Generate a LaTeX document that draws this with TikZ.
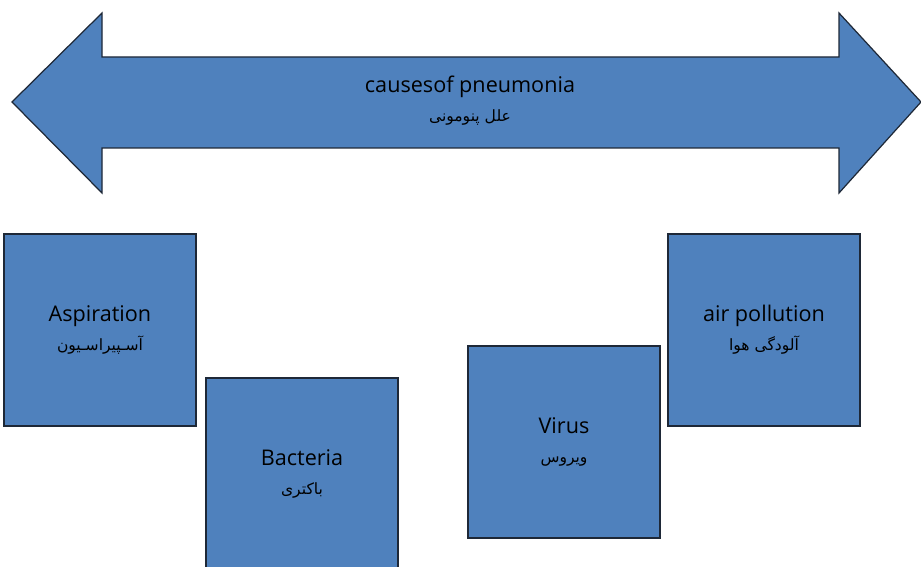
\documentclass[tikz,border=0pt]{standalone}
\usepackage{fontspec}
\setmainfont{Open Sans}
\newfontfamily\arabicfont[Script=Arabic,Scale=0.72]{DejaVu Sans}
\TeXXeTstate=1
\usetikzlibrary{positioning}
\definecolor{causefill}{RGB}{79,129,189}
\definecolor{causeedge}{RGB}{30,40,55}

\begin{document}
\begin{tikzpicture}[x=0.02cm, y=-0.02cm]
	\tikzset{causebox/.style={draw=causeedge, fill=causefill, line width=0.7pt, minimum size=3.84cm, inner sep=0pt, align=center, font=\fontsize{12.3}{16.5}\selectfont},
		arrowtext/.style={align=center, font=\fontsize{12.3}{16.5}\selectfont}}
	\useasboundingbox (0,0) rectangle (921,567);
	% double arrow
	\draw[draw=causeedge, fill=causefill, line width=0.7pt, line join=miter]
		(12,102) -- (102,13) -- (102,57) -- (839,57) -- (839,13) -- (921,102)
		-- (839,193) -- (839,148) -- (102,148) -- (102,193) -- cycle;
	\node[arrowtext] (title) at (470,101) {causesof pneumonia\\{\arabicfont\beginR علل پنومونی\endR}};
	% causes
	\node[causebox] (asp) at (100,330) {Aspiration\\{\arabicfont\beginR آسـپیراسـیون\endR}};
	\node[causebox] (bac) at (302,474) {Bacteria\\{\arabicfont\beginR باکتری\endR}};
	\node[causebox] (vir) at (564,442) {Virus\\{\arabicfont\beginR ویروس\endR}};
	\node[causebox] (air) at (764,330) {air pollution\\{\arabicfont\beginR آلودگی هوا\endR}};
\end{tikzpicture}
\end{document}
